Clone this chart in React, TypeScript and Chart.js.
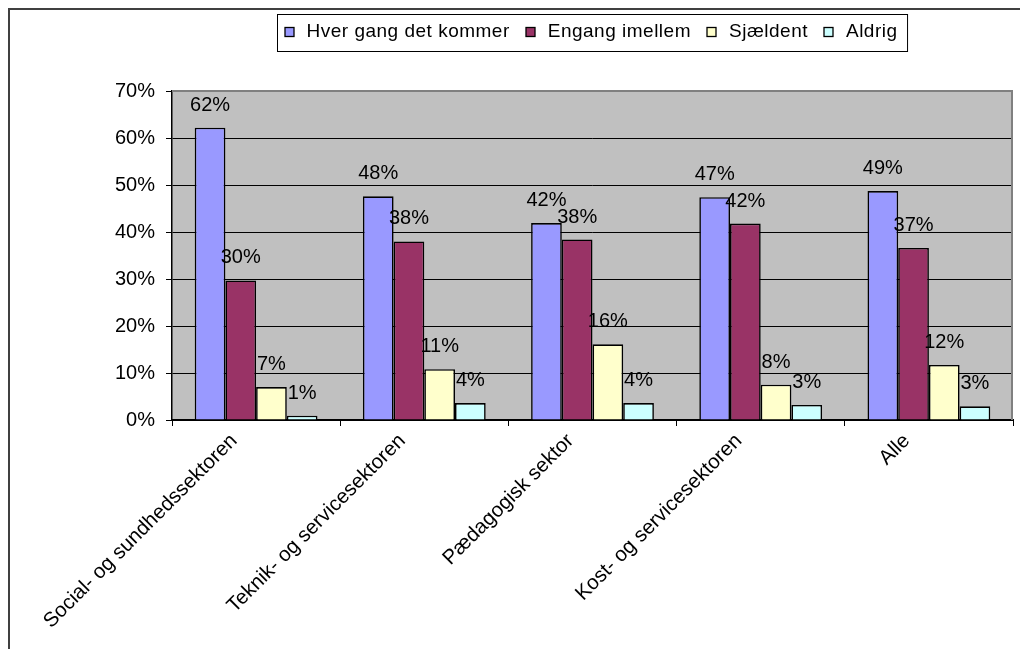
import React, { useEffect, useRef } from 'react';
import { Chart, registerables } from 'chart.js';

Chart.register(...registerables);

const categories = [
  'Social- og sundhedssektoren',
  'Teknik- og servicesektoren',
  'Pædagogisk sektor',
  'Kost- og servicesektoren',
  'Alle',
];
const seriesNames = ['Hver gang det kommer', 'Engang imellem', 'Sjældent', 'Aldrig'];
const hverGang = [62.2, 47.6, 41.9, 47.4, 48.7];
const engangImellem = [29.7, 38.0, 38.4, 41.8, 36.6];
const sjaeldent = [7.0, 10.8, 16.1, 7.5, 11.7];
const aldrig = [0.9, 3.6, 3.6, 3.2, 2.9];
const yMax = 70;
const yStep = 10;
const seriesColors = ['#9999FF', '#993366', '#FFFFCC', '#CCFFFF'];

const FONT = "'Liberation Sans', Arial, sans-serif";

const plotBgPlugin = {
  id: 'plotBg',
  beforeDraw(chart: any) {
    const { ctx, chartArea: a } = chart;
    ctx.save();
    ctx.fillStyle = '#ffffff';
    ctx.fillRect(0, 0, chart.width, chart.height);
    ctx.fillStyle = '#C0C0C0';
    ctx.fillRect(a.left, a.top, a.right - a.left, a.bottom - a.top);
    ctx.restore();
  },
  beforeDatasetsDraw(chart: any) {
    const { ctx, chartArea: a } = chart;
    ctx.save();
    ctx.strokeStyle = '#808080';
    ctx.lineWidth = 2;
    ctx.beginPath();
    ctx.moveTo(a.left, a.top);
    ctx.lineTo(a.right - 1, a.top);
    ctx.lineTo(a.right - 1, a.bottom);
    ctx.stroke();
    ctx.restore();
  },
};

const valueLabelPlugin = {
  id: 'valueLabels',
  afterDatasetsDraw(chart: any) {
    const { ctx } = chart;
    ctx.save();
    ctx.font = `20px ${FONT}`;
    ctx.fillStyle = '#000';
    ctx.textAlign = 'center';
    ctx.textBaseline = 'alphabetic';
    chart.data.datasets.forEach((ds: any, di: number) => {
      const meta = chart.getDatasetMeta(di);
      meta.data.forEach((el: any, i: number) => {
        const v = ds.data[i];
        ctx.fillText(`${Math.round(v)}%`, el.x, el.y - 17);
      });
    });
    ctx.restore();
  },
};

const boxLegendPlugin = {
  id: 'boxLegend',
  afterDraw(chart: any) {
    const { ctx, chartArea: a } = chart;
    ctx.save();
    ctx.font = `19px ${FONT}`;
    (ctx as any).letterSpacing = '0.5px';
    const items = chart.data.datasets.map((ds: any) => ({
      label: ds.label,
      color: ds.backgroundColor,
      w: ctx.measureText(ds.label).width,
    }));
    const padL = 7;
    const padR = 10;
    const sq = 9;
    const textOff = 22;
    const gap = 16;
    let total = padL + padR;
    items.forEach((it: any, i: number) => {
      total += textOff + it.w + (i < items.length - 1 ? gap : 0);
    });
    const cx = (a.left + a.right) / 2;
    const left = Math.round(cx - total / 2) + 0.5;
    const top = 4.5;
    const h = 37;
    ctx.fillStyle = '#fff';
    ctx.fillRect(left, top, total, h);
    ctx.strokeStyle = '#000';
    ctx.lineWidth = 1;
    ctx.strokeRect(left, top, total, h);
    let x = left + padL;
    ctx.textBaseline = 'alphabetic';
    ctx.textAlign = 'left';
    items.forEach((it: any) => {
      ctx.fillStyle = it.color;
      ctx.fillRect(Math.round(x), 17.5, sq, sq);
      ctx.strokeStyle = '#000';
      ctx.lineWidth = 1.3;
      ctx.strokeRect(Math.round(x), 17.5, sq, sq);
      ctx.fillStyle = '#000';
      ctx.fillText(it.label, x + textOff, 27);
      x += textOff + it.w + gap;
    });
    ctx.restore();
  },
};

export default function App() {
  const ref = useRef<HTMLCanvasElement | null>(null);

  useEffect(() => {
    if (!ref.current) return;
    const data = [hverGang, engangImellem, sjaeldent, aldrig];
    const chart = new Chart(ref.current, {
      type: 'bar',
      data: {
        labels: categories,
        datasets: seriesNames.map((name, i) => ({
          label: name,
          data: data[i],
          backgroundColor: seriesColors[i],
          borderColor: '#000',
          borderWidth: 1.6,
          borderSkipped: 'bottom',
          categoryPercentage: 0.73,
          barPercentage: 1,
        })),
      },
      options: {
        responsive: false,
        animation: false,
        events: [],
        layout: { padding: { top: 81, right: 7, left: 0, bottom: 0 } },
        plugins: {
          legend: { display: false },
          title: { display: false },
          tooltip: { enabled: false },
        },
        scales: {
          x: {
            offset: true,
            grid: {
              offset: true,
              drawOnChartArea: false,
              drawTicks: true,
              tickLength: 6,
              tickColor: '#000',
              color: '#000',
            },
            border: { display: true, color: '#000', width: 2 },
            ticks: {
              autoSkip: false,
              minRotation: 45,
              maxRotation: 45,
              padding: 3,
              labelOffset: -22,
              color: '#000',
              font: { family: FONT, size: 20.5 },
            },
            afterFit: (scale: any) => {
              scale.height = 229;
            },
          },
          y: {
            min: 0,
            max: yMax,
            ticks: {
              stepSize: yStep,
              padding: 11,
              color: '#000',
              font: { family: FONT, size: 20 },
              callback: (v: any) => `${v}%`,
            },
            grid: {
              color: (c: any) => (c.tick && c.tick.value === yMax ? '#808080' : '#000'),
              lineWidth: 1,
              drawTicks: true,
              tickLength: 6,
              tickColor: '#000',
            },
            border: { display: true, color: '#000', width: 1.5 },
            afterFit: (scale: any) => {
              scale.width = 162;
            },
          },
        },
      },
      plugins: [plotBgPlugin, valueLabelPlugin, boxLegendPlugin],
    } as any);
    return () => chart.destroy();
  }, []);

  return (
    <div
      style={{
        position: 'fixed',
        left: 0,
        top: 0,
        width: 1020,
        height: 649,
        overflow: 'hidden',
        background: '#fff',
      }}
    >
      <div
        style={{
          position: 'absolute',
          left: 8,
          top: 8,
          width: 1030,
          height: 660,
          borderLeft: '2px solid #404040',
          borderTop: '2px solid #404040',
          boxSizing: 'border-box',
        }}
      />
      <canvas
        ref={ref}
        width={1010}
        height={639}
        style={{ position: 'absolute', left: 10, top: 10, width: 1010, height: 639 }}
      />
    </div>
  );
}
